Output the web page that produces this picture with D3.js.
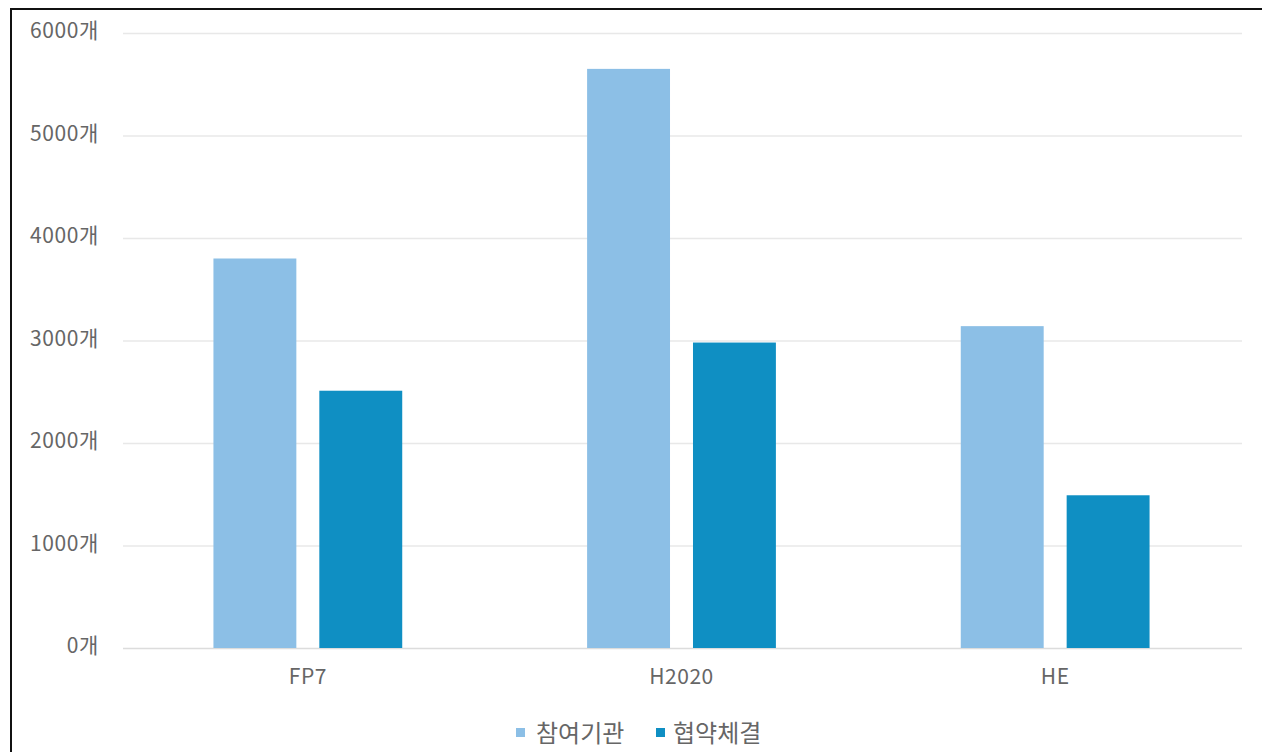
<!DOCTYPE html>
<html><head><meta charset="utf-8">
<script src="https://cdn.jsdelivr.net/npm/d3@7"></script>
<style>
html,body{margin:0;padding:0;background:#fff;}
svg{display:block;}
text{font-family:"Noto Sans CJK KR","Noto Sans",sans-serif;}
</style></head>
<body>
<svg id="chart" width="1262" height="752"></svg>
<script>
const categories = ["FP7", "H2020", "HE"];
const seriesNames = ["참여기관", "협약체결"];
const participants = [3800, 5650, 3140];
const agreements = [2510, 2980, 1490];
const yTicks = [0, 1000, 2000, 3000, 4000, 5000, 6000];
const colors = ["#8cbfe6", "#0f8fc3"];

const svg = d3.select("#chart");
const plotL = 121, plotR = 1242, plotT = 33, plotB = 648;

// frame (only left and top edges visible)
svg.append("rect").attr("x", 11).attr("y", 9).attr("width", 1262).attr("height", 760)
  .attr("fill", "none").attr("stroke", "#111").attr("stroke-width", 2);

const y = d3.scaleLinear().domain([0, 6000]).range([plotB, plotT]);
const x0 = d3.scaleBand().domain(categories).range([plotL, plotR]).padding(0);
const x1 = d3.scaleBand().domain(seriesNames).range([0, x0.bandwidth()])
  .paddingInner(0.217).paddingOuter(0.873);

// gridlines
svg.append("g").selectAll("line").data(yTicks).join("line")
  .attr("x1", plotL + 2).attr("x2", plotR)
  .attr("y1", d => y(d) + 0.5).attr("y2", d => y(d) + 0.5)
  .attr("stroke", d => d === 0 ? "#dcdcdc" : "#e8e8e8").attr("stroke-width", 1.5);

// y axis labels
const yAxis = d3.axisLeft(y).tickValues(yTicks).tickSize(0).tickPadding(0)
  .tickFormat(d => d + "개");
const ya = svg.append("g").attr("transform", `translate(99,-2)`).call(yAxis);
ya.select(".domain").remove();
ya.selectAll("text").attr("font-size", 21).attr("fill", "#666")
  .attr("letter-spacing", 0.6)
  .attr("font-family", '"Noto Sans CJK KR",sans-serif');

// bars
const data = categories.map((c, i) => ({cat: c, vals: [participants[i], agreements[i]]}));
const groups = svg.append("g").selectAll("g").data(data).join("g")
  .attr("transform", d => `translate(${x0(d.cat)},0)`);
groups.selectAll("rect").data(d => d.vals.map((v, j) => ({s: seriesNames[j], v, j})))
  .join("rect")
  .attr("x", d => x1(d.s)).attr("width", x1.bandwidth())
  .attr("y", d => y(d.v)).attr("height", d => y(0) - y(d.v))
  .attr("fill", d => colors[d.j]);

// x axis labels
const xAxis = d3.axisBottom(x0).tickSize(0).tickPadding(0);
const xa = svg.append("g").attr("transform", `translate(0,${plotB + 21})`).call(xAxis);
xa.select(".domain").remove();
xa.selectAll("text").attr("font-size", 21).attr("fill", "#666").attr("dy", "0.71em")
  .attr("letter-spacing", 0.5)
  .attr("font-family", '"Noto Sans CJK KR",sans-serif');

// legend
const legend = svg.append("g");
const legSq = [516, 656];
const legTx = [536, 673];
seriesNames.forEach((s, i) => {
  legend.append("rect").attr("x", legSq[i]).attr("y", 728).attr("width", 9).attr("height", 9)
    .attr("fill", colors[i]);
  legend.append("text").attr("x", legTx[i]).attr("y", 742)
    .attr("font-size", 24).attr("fill", "#666").text(s);
});
</script>
</body></html>
